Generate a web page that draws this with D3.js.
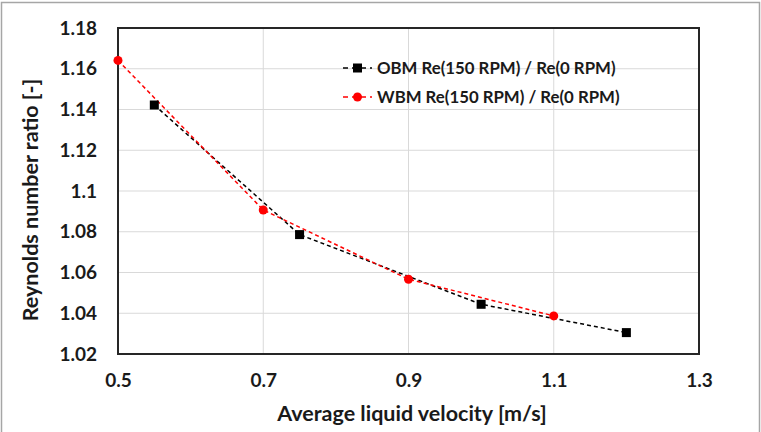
<!DOCTYPE html>
<html>
<head>
<meta charset="utf-8">
<script src="https://cdn.jsdelivr.net/npm/d3@7"></script>
<style>
  body { margin: 0; background: #fff; }
  text { font-family: Lato, "Open Sans", sans-serif; font-weight: bold; fill: #1a1a1a; }
</style>
</head>
<body>
<div id="chart"></div>
<script>
// data
const obmVelocity = [0.55, 0.75, 1.0, 1.2];
const obmRatio = [1.1422, 1.0786, 1.0444, 1.0305];
const wbmVelocity = [0.5, 0.7, 0.9, 1.1];
const wbmRatio = [1.1641, 1.0907, 1.0567, 1.0387];
const xTicks = [0.5, 0.7, 0.9, 1.1, 1.3];
const yTicks = [1.02, 1.04, 1.06, 1.08, 1.1, 1.12, 1.14, 1.16, 1.18];
const legendLabels = ["OBM Re(150 RPM) / Re(0 RPM)", "WBM Re(150 RPM) / Re(0 RPM)"];

(function(){
  let svgWidth = 761, svgHeight = 432;
  let margin = { top: 28, right: 62, bottom: 78, left: 118 };
  let width = svgWidth - margin.left - margin.right;
  let height = svgHeight - margin.top - margin.bottom;

  let svg = d3.select("#chart").append("svg")
    .attr("width", svgWidth).attr("height", svgHeight);

  // outer border
  svg.append("rect").attr("x", 1.5).attr("y", 2.5)
    .attr("width", svgWidth - 3).attr("height", svgHeight + 10)
    .attr("fill", "none").attr("stroke", "#a6a6a6").attr("stroke-width", 1.5);

  let g = svg.append("g").attr("transform", `translate(${margin.left}, ${margin.top})`);

  let x = d3.scaleLinear().domain([0.5, 1.3]).range([0, width]);
  let y = d3.scaleLinear().domain([1.02, 1.18]).range([height, 0]);

  // grid
  g.append("g").selectAll("line").data(xTicks).join("line")
    .attr("x1", d => x(d)).attr("x2", d => x(d)).attr("y1", 0).attr("y2", height)
    .attr("stroke", "#d9d9d9").attr("stroke-width", 1);
  g.append("g").selectAll("line").data(yTicks).join("line")
    .attr("y1", d => y(d)).attr("y2", d => y(d)).attr("x1", 0).attr("x2", width)
    .attr("stroke", "#d9d9d9").attr("stroke-width", 1);

  // axes (labels only)
  let xAxis = g.append("g").attr("transform", `translate(0, ${height})`)
    .call(d3.axisBottom(x).tickValues(xTicks).tickSize(0).tickPadding(20).tickFormat(d3.format("")));
  let yAxis = g.append("g")
    .call(d3.axisLeft(y).tickValues(yTicks).tickSize(0).tickPadding(21).tickFormat(d3.format("")));
  [xAxis, yAxis].forEach(a => {
    a.select(".domain").remove();
    a.selectAll("text").attr("font-size", 19).attr("font-family", "Lato, sans-serif")
      .attr("font-weight", "bold").attr("fill", "#1a1a1a");
  });

  // plot frame
  g.append("rect").attr("x", 0).attr("y", 0).attr("width", width).attr("height", height)
    .attr("fill", "none").attr("stroke", "#262626").attr("stroke-width", 2);

  let line = d3.line().x(d => x(d[0])).y(d => y(d[1]));

  // OBM
  g.append("path").datum(obmVelocity.map((v, i) => [v, obmRatio[i]]))
    .attr("d", line).attr("fill", "none").attr("stroke", "#000")
    .attr("stroke-width", 1.5).attr("stroke-dasharray", "4,3");
  // WBM
  g.append("path").datum(wbmVelocity.map((v, i) => [v, wbmRatio[i]]))
    .attr("d", line).attr("fill", "none").attr("stroke", "#ff0000")
    .attr("stroke-width", 1.5).attr("stroke-dasharray", "4,3");

  g.selectAll(".obm").data(obmVelocity).join("rect").attr("class", "obm")
    .attr("x", (d) => x(d) - 4.5).attr("y", (d, i) => y(obmRatio[i]) - 4.5)
    .attr("width", 9).attr("height", 9).attr("fill", "#000");
  g.selectAll(".wbm").data(wbmVelocity).join("circle").attr("class", "wbm")
    .attr("cx", d => x(d)).attr("cy", (d, i) => y(wbmRatio[i]))
    .attr("r", 4.5).attr("fill", "#ff0000");

  // legend
  let legend = svg.append("g").attr("transform", "translate(343, 68)");
  legendLabels.forEach(function(label, i){
    let row = legend.append("g").attr("transform", `translate(0, ${i * 29})`);
    let color = i === 0 ? "#000" : "#ff0000";
    row.append("line").attr("x1", 0).attr("x2", 29).attr("y1", 0).attr("y2", 0)
      .attr("stroke", color).attr("stroke-width", 1.5).attr("stroke-dasharray", "5,4");
    if (i === 0) {
      row.append("rect").attr("x", 10).attr("y", -4.5).attr("width", 9).attr("height", 9).attr("fill", color);
    } else {
      row.append("circle").attr("cx", 14.5).attr("cy", 0).attr("r", 4.5).attr("fill", color);
    }
    row.append("text").attr("x", 34).attr("y", 0).attr("dy", "0.35em")
      .attr("font-size", 16.8).text(label);
  });

  // axis titles
  svg.append("text").attr("x", 412).attr("y", 413).attr("dy", "0.35em")
    .attr("text-anchor", "middle").attr("font-size", 21.5)
    .text("Average liquid velocity [m/s]");
  svg.append("text").attr("transform", "translate(30, 200) rotate(-90)")
    .attr("dy", "0.35em").attr("text-anchor", "middle").attr("font-size", 21.5)
    .text("Reynolds number ratio [-]");
})();
</script>
</body>
</html>
